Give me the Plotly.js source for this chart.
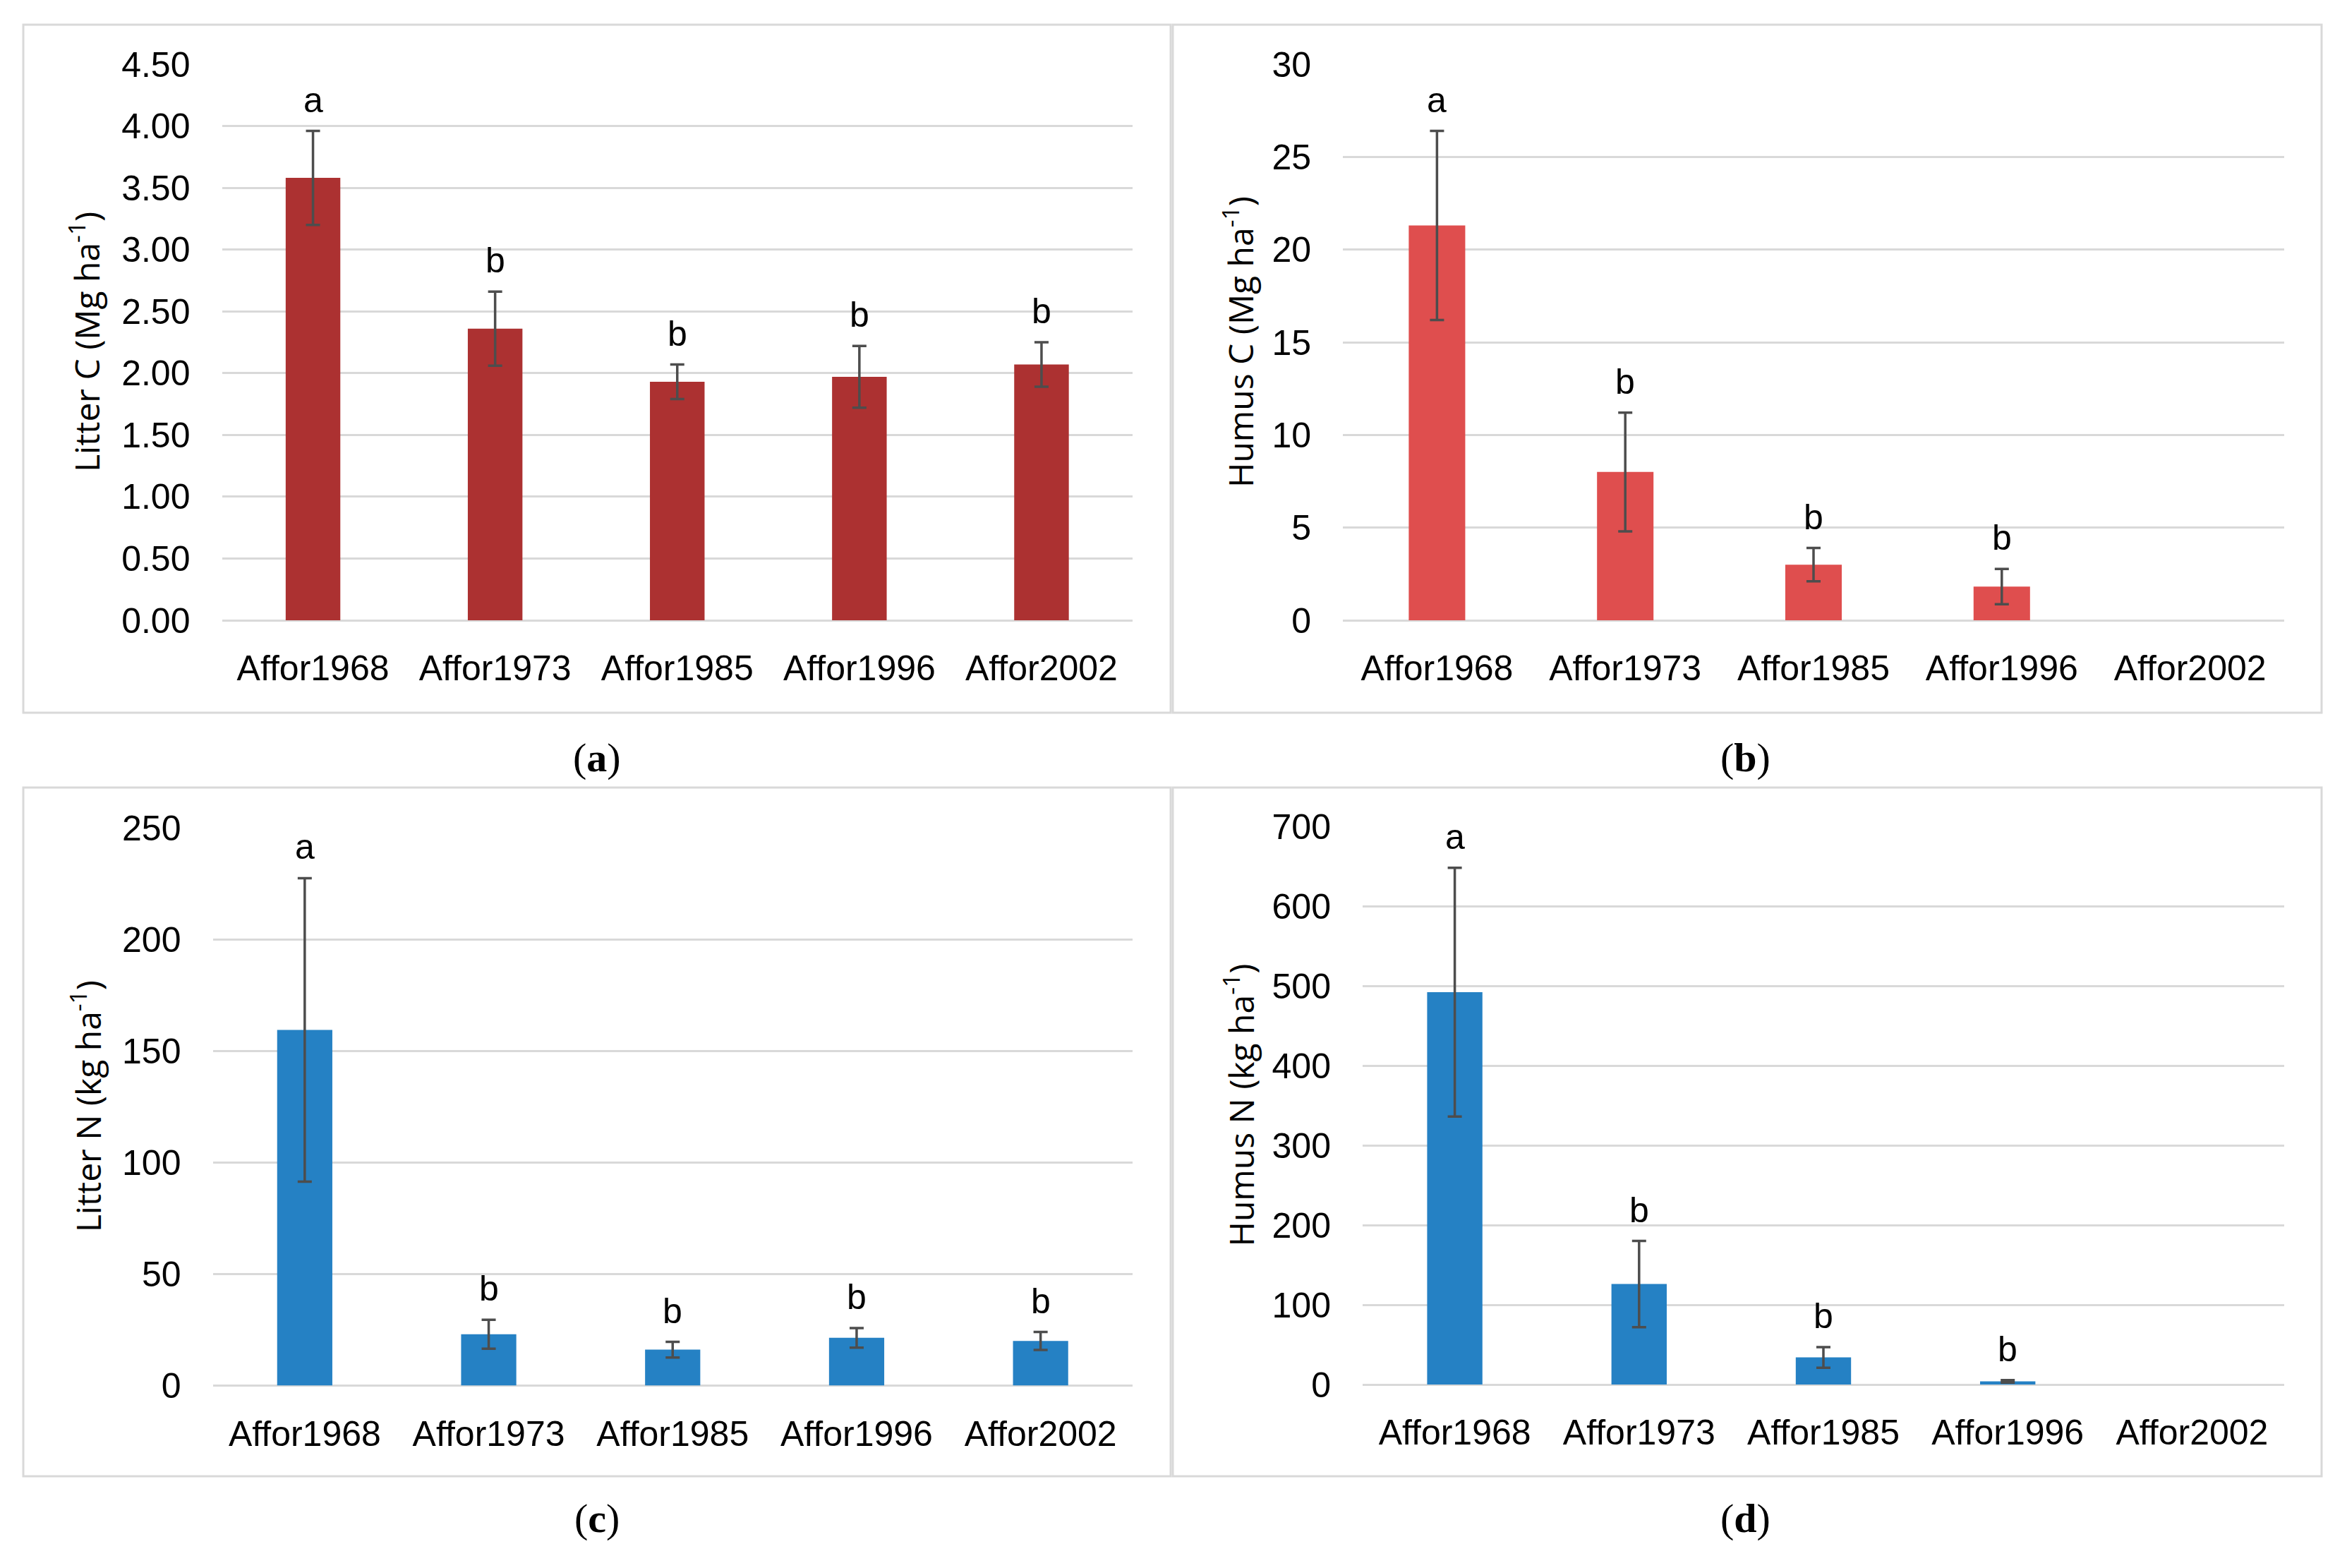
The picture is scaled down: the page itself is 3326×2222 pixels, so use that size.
<!DOCTYPE html>
<html>
<head>
<meta charset="utf-8">
<script src="https://cdn.plot.ly/plotly-3.0.1.min.js"></script>
<style>
  html, body { margin: 0; padding: 0; background: #ffffff; }
  #chart { width: 3326px; height: 2222px; }
</style>
</head>
<body>
<div id="chart"></div>
<script>
// ---------------- data ----------------
const categories = ['Affor1968', 'Affor1973', 'Affor1985', 'Affor1996', 'Affor2002'];

const litterC        = [3.58, 2.36, 1.93, 1.97, 2.07];
const litterCErr     = [0.38, 0.30, 0.14, 0.25, 0.18];
const litterCLetters = ['a', 'b', 'b', 'b', 'b'];

const humusC        = [21.3, 8.0, 3.0, 1.82, null];
const humusCErr     = [5.1, 3.2, 0.9, 0.95, null];
const humusCLetters = ['a', 'b', 'b', 'b', ''];

const litterN        = [159.4, 23.0, 16.1, 21.4, 20.0];
const litterNErr     = [68, 6.5, 3.5, 4.4, 4.0];
const litterNLetters = ['a', 'b', 'b', 'b', 'b'];

const humusN        = [492, 126, 34, 4, null];
const humusNErr     = [156, 54, 13, 1.5, null];
const humusNLetters = ['a', 'b', 'b', 'b', ''];

const yTitles = ['Litter C (Mg ha<sup>-1</sup>)', 'Humus C (Mg ha<sup>-1</sup>)',
                 'Litter N (kg ha<sup>-1</sup>)', 'Humus N (kg ha<sup>-1</sup>)'];
const panelLabels = ['(<b>a</b>)', '(<b>b</b>)', '(<b>c</b>)', '(<b>d</b>)'];

// ---------------- layout helpers ----------------
const W = 3326, H = 2222;
const px = v => v / W;
const py = v => 1 - v / H;

const panels = [
  { vals: litterC, errs: litterCErr, letters: litterCLetters, color: '#AC3131',
    xd: [314.5, 1605], yd: [879, 91], range: [0, 4.5], dtick: 0.5, fmt: '.2f',
    box: [33, 35, 1659, 1010], titleX: 120, label: [846, 1074] },
  { vals: humusC, errs: humusCErr, letters: humusCLetters, color: '#DF4E4E',
    xd: [1903, 3237], yd: [879, 91], range: [0, 30], dtick: 5, fmt: 'd',
    box: [1662, 35, 3290, 1010], titleX: 1755, label: [2473, 1074] },
  { vals: litterN, errs: litterNErr, letters: litterNLetters, color: '#2581C4',
    xd: [301.5, 1605], yd: [1963.5, 1173], range: [0, 250], dtick: 50, fmt: 'd',
    box: [33, 1116, 1659, 2092], titleX: 122, label: [846, 2151] },
  { vals: humusN, errs: humusNErr, letters: humusNLetters, color: '#2581C4',
    xd: [1931, 3237], yd: [1962, 1171], range: [0, 700], dtick: 100, fmt: 'd',
    box: [1662, 1116, 3290, 2092], titleX: 1755, label: [2473, 2151] }
];

const tickFont = { family: 'Liberation Sans, Arial, sans-serif', size: 50, color: '#000000' };
const traces = [];
const annotations = [];
const shapes = [];
const layout = {
  width: W, height: H,
  margin: { l: 0, r: 0, t: 0, b: 0 },
  paper_bgcolor: '#ffffff', plot_bgcolor: '#ffffff',
  showlegend: false,
  bargap: 0.7
};

panels.forEach((p, i) => {
  const n = i === 0 ? '' : String(i + 1);
  const xa = 'x' + n, ya = 'y' + n;
  traces.push({
    type: 'bar', x: categories, y: p.vals, xaxis: xa, yaxis: ya,
    width: 0.3,
    marker: { color: p.color, line: { width: 0 } },
    error_y: { type: 'data', array: p.errs, visible: true, color: '#4D4D4D', thickness: 3.5, width: 10 },
    hoverinfo: 'skip'
  });
  layout['xaxis' + n] = {
    domain: [px(p.xd[0]), px(p.xd[1])], anchor: ya,
    type: 'category', categoryorder: 'array', categoryarray: categories,
    showgrid: false, showline: false, zeroline: false, ticks: '',
    tickfont: tickFont, ticklabelstandoff: 34, fixedrange: true
  };
  layout['yaxis' + n] = {
    domain: [py(p.yd[0]), py(p.yd[1])], anchor: xa,
    range: p.range, dtick: p.dtick, tick0: 0, tickformat: p.fmt,
    showgrid: true, gridcolor: '#D9D9D9', gridwidth: 3,
    zeroline: true, zerolinecolor: '#D9D9D9', zerolinewidth: 3,
    showline: false, ticks: '', tickfont: tickFont, ticklabelstandoff: 44,
    fixedrange: true
  };
  // y title
  annotations.push({
    xref: 'paper', yref: 'paper', x: px(p.titleX), y: py((p.yd[0] + p.yd[1]) / 2),
    text: yTitles[i], textangle: -90, showarrow: false,
    xanchor: 'center', yanchor: 'middle',
    font: { family: 'Open Sans, Noto Sans, sans-serif', size: 48, color: '#000000' }
  });
  // panel label
  annotations.push({
    xref: 'paper', yref: 'paper', x: px(p.label[0]), y: py(p.label[1]),
    text: panelLabels[i], showarrow: false, xanchor: 'center', yanchor: 'middle',
    font: { family: 'Liberation Serif, Times New Roman, serif', size: 58, color: '#000000' }
  });
  // significance letters
  categories.forEach((c, k) => {
    if (p.vals[k] === null || !p.letters[k]) return;
    annotations.push({
      xref: xa, yref: ya, x: c, y: p.vals[k] + p.errs[k],
      text: p.letters[k], showarrow: false, xanchor: 'center', yanchor: 'bottom',
      yshift: 14, font: tickFont
    });
  });
  // panel border
  shapes.push({
    type: 'rect', xref: 'paper', yref: 'paper',
    x0: px(p.box[0]), x1: px(p.box[2]), y0: py(p.box[3]), y1: py(p.box[1]),
    line: { color: '#D9D9D9', width: 3 }, fillcolor: 'rgba(0,0,0,0)', layer: 'below'
  });
});

layout.annotations = annotations;
layout.shapes = shapes;

Plotly.newPlot('chart', traces, layout, { staticPlot: true, displayModeBar: false });
</script>
</body>
</html>
